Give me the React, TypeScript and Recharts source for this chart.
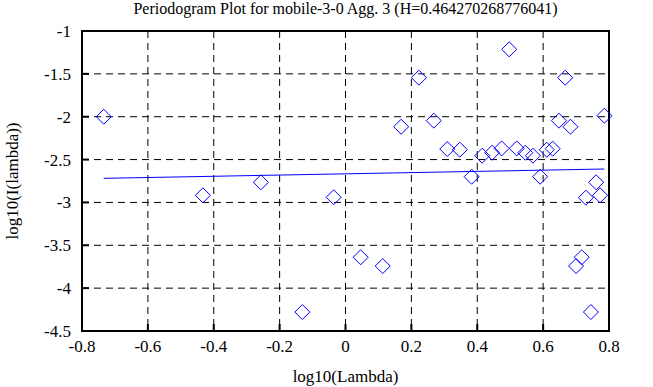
import { ScatterChart, Scatter, XAxis, YAxis, CartesianGrid, ReferenceArea } from 'recharts';

// log10(Lambda) / log10(I(lambda)) pairs
const lambdaX = [
  -0.734, -0.433, -0.257, -0.131, -0.036, 0.046, 0.113, 0.169, 0.223, 0.268,
  0.309, 0.347, 0.383, 0.415, 0.445, 0.474, 0.497, 0.52, 0.546, 0.569,
  0.591, 0.611, 0.629, 0.648, 0.667, 0.683, 0.7, 0.717, 0.73, 0.745,
  0.761, 0.773, 0.786,
];
const intensityY = [
  -2.0, -2.917, -2.765, -4.279, -2.94, -3.64, -3.742, -2.117, -1.545, -2.046,
  -2.377, -2.385, -2.7, -2.455, -2.42, -2.37, -1.214, -2.37, -2.42, -2.455,
  -2.7, -2.385, -2.373, -2.046, -1.545, -2.117, -3.742, -3.64, -2.945, -4.279,
  -2.765, -2.917, -1.988,
];

// least-squares fit end points
const fitX = [-0.734, 0.786];
const fitY = [-2.719, -2.61];

const xTicks = [-0.8, -0.6, -0.4, -0.2, 0, 0.2, 0.4, 0.6, 0.8];
const yTicks = [-4.5, -4, -3.5, -3, -2.5, -2, -1.5, -1];

const points = lambdaX.map((x, i) => ({ x, y: intensityY[i] }));
const fitLine = fitX.map((x, i) => ({ x, y: fitY[i] }));

const FONT = '"Liberation Serif", "DejaVu Serif", serif';

function Diamond(props: any) {
  const { cx, cy } = props;
  const r = 7.5;
  return (
    <path
      d={`M${cx},${cy - r}L${cx + r},${cy}L${cx},${cy + r}L${cx - r},${cy}Z`}
      fill="none"
      stroke="#0000ff"
      strokeWidth={1}
    />
  );
}

function XTick(props: any) {
  const { x, y, payload } = props;
  return (
    <text x={x} y={y + 10} textAnchor="middle" fontSize={17} fontFamily={FONT} fill="#000">
      {payload.value}
    </text>
  );
}

function YTick(props: any) {
  const { x, y, payload } = props;
  return (
    <text x={x} y={y + 6} textAnchor="end" fontSize={17} fontFamily={FONT} fill="#000">
      {payload.value}
    </text>
  );
}

const tickStroke = { stroke: '#000', strokeWidth: 2 };

export default function App() {
  return (
    <div
      style={{
        position: 'absolute',
        left: 0,
        top: 0,
        width: 653,
        height: 387,
        background: '#fff',
        fontFamily: FONT,
      }}
    >
      <div
        style={{
          position: 'absolute',
          left: 82,
          width: 527,
          top: 0,
          textAlign: 'center',
          fontSize: 16,
          lineHeight: '18px',
          color: '#000',
        }}
      >
        Periodogram Plot for mobile-3-0 Agg. 3 (H=0.464270268776041)
      </div>
      <ScatterChart width={653} height={387} margin={{ top: 31, right: 44, bottom: 0, left: 0 }}>
        <CartesianGrid stroke="#000" strokeDasharray="7 5" />
        <XAxis
          type="number"
          dataKey="x"
          domain={[-0.8, 0.8]}
          ticks={xTicks}
          height={56}
          axisLine={false}
          tickSize={-7}
          tickLine={tickStroke}
          tickMargin={18}
          tick={XTick}
          label={{
            content: (p: any) => (
              <text
                x={p.viewBox.x + p.viewBox.width / 2}
                y={p.viewBox.y + 45}
                textAnchor="middle"
                dominantBaseline="central"
                fontSize={17}
                fontFamily={FONT}
                fill="#000"
              >
                log10(Lambda)
              </text>
            ),
          }}
        />
        <YAxis
          type="number"
          dataKey="y"
          domain={[-4.5, -1]}
          ticks={yTicks}
          width={82}
          axisLine={false}
          tickSize={-7}
          tickLine={tickStroke}
          tickMargin={18}
          tick={YTick}
          label={{
            content: (p: any) => {
              const cx = p.viewBox.x + 12;
              const cy = p.viewBox.y + p.viewBox.height / 2;
              return (
                <text
                  x={cx}
                  y={cy}
                  transform={`rotate(-90 ${cx} ${cy})`}
                  textAnchor="middle"
                  dominantBaseline="central"
                  fontSize={17}
                  fontFamily={FONT}
                  fill="#000"
                >
                  log10(I(lambda))
                </text>
              );
            },
          }}
        />
        <YAxis
          yAxisId="right"
          orientation="right"
          type="number"
          domain={[-4.5, -1]}
          ticks={yTicks}
          width={0}
          axisLine={false}
          tick={() => <g />}
          tickSize={-7}
          tickLine={tickStroke}
        />
        <ReferenceArea
          x1={-0.8}
          x2={0.8}
          y1={-4.5}
          y2={-1}
          fill="none"
          stroke="#000"
          strokeWidth={2}
          ifOverflow="visible"
        />
        <Scatter data={fitLine} line={{ stroke: '#0000ff', strokeWidth: 1 }} shape={() => null} isAnimationActive={false} />
        <Scatter data={points} shape={Diamond} isAnimationActive={false} />
      </ScatterChart>
    </div>
  );
}
